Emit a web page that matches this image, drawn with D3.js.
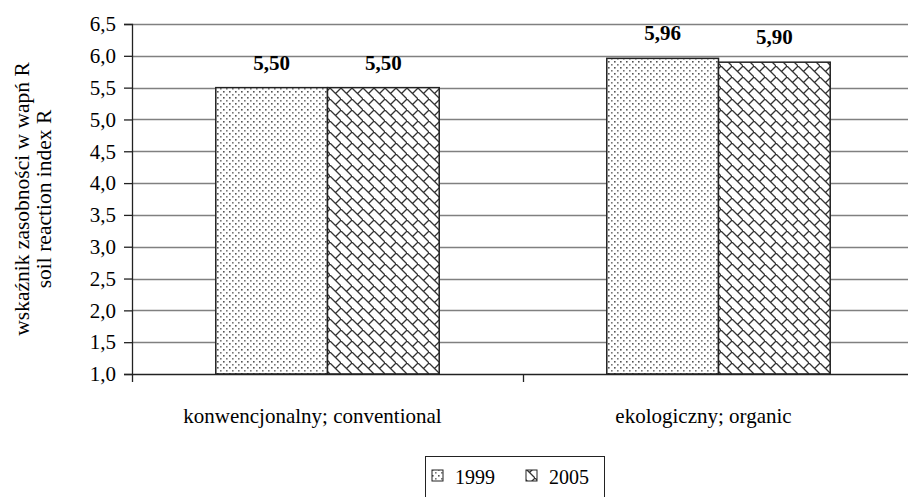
<!DOCTYPE html>
<html>
<head>
<meta charset="utf-8">
<script src="https://cdn.jsdelivr.net/npm/d3@7"></script>
<style>
  html, body { margin: 0; padding: 0; background: #fff; }
  svg { display: block; }
  text { font-family: "Liberation Serif", "Times New Roman", serif; fill: #000; }
</style>
</head>
<body>
<svg id="chart" width="908" height="497"></svg>
<script>
// Farming systems and survey years
const categories = ["konwencjonalny; conventional", "ekologiczny; organic"];
const years = ["1999", "2005"];
const values1999 = [5.50, 5.96];
const values2005 = [5.50, 5.90];
const yTicks = [1.0, 1.5, 2.0, 2.5, 3.0, 3.5, 4.0, 4.5, 5.0, 5.5, 6.0, 6.5];
const yTitle = ["wskaźnik zasobności w wapń R", "soil reaction index R"];

const series = [values1999, values2005];
const fmt = v => d3.format(".2f")(v).replace(".", ",");
const fmtTick = v => d3.format(".1f")(v).replace(".", ",");

const svg = d3.select("#chart");
const margin = { left: 132, right: -6, top: 24, bottom: 123 };
const W = 908, H = 497;
const x0 = margin.left, x1 = W - margin.right;
const yTop = margin.top, yBot = H - margin.bottom;

// Fill patterns: dotted for 1999, diagonal brick for 2005
const defs = svg.append("defs");
const dots = defs.append("pattern").attr("id", "pDots")
  .attr("patternUnits", "userSpaceOnUse").attr("width", 6).attr("height", 6);
dots.append("rect").attr("width", 6).attr("height", 6).attr("fill", "#fff");
dots.append("rect").attr("x", 1).attr("y", 1).attr("width", 1.6).attr("height", 1.6).attr("fill", "#555");
dots.append("rect").attr("x", 4).attr("y", 4).attr("width", 1.6).attr("height", 1.6).attr("fill", "#777");

const brick = defs.append("pattern").attr("id", "pBrick")
  .attr("patternUnits", "userSpaceOnUse").attr("width", 11).attr("height", 11);
brick.append("rect").attr("width", 11).attr("height", 11).attr("fill", "#fff");
brick.append("path")
  .attr("d", "M-1,-1 L12,12 M5.5,5.5 L11,0 M-1,12 L0,11 M10,1 L12,-1")
  .attr("stroke", "#333").attr("stroke-width", 1.3).attr("fill", "none");

const fills = ["url(#pDots)", "url(#pBrick)"];

const y = d3.scaleLinear().domain([1.0, 6.5]).range([yBot, yTop]);
const xBand = d3.scaleBand().domain(categories).range([x0, x1]).paddingInner(0).paddingOuter(0);
const xSub = d3.scaleBand().domain(years).range([0, xBand.bandwidth()]).paddingInner(0).paddingOuter(0.75);

// Horizontal gridlines
svg.append("g").selectAll("line").data(yTicks.slice(1)).join("line")
  .attr("x1", x0).attr("x2", x1 + 10)
  .attr("y1", d => Math.round(y(d)) + 0.5).attr("y2", d => Math.round(y(d)) + 0.5)
  .attr("stroke", "#808080").attr("stroke-width", 1.4);

// Bars
const groups = svg.append("g").selectAll("g").data(categories).join("g")
  .attr("transform", d => `translate(${xBand(d)},0)`);
groups.each(function (cat, ci) {
  const g = d3.select(this);
  years.forEach((yr, si) => {
    const v = series[si][ci];
    g.append("rect")
      .attr("x", xSub(yr)).attr("width", xSub.bandwidth())
      .attr("y", y(v)).attr("height", y(1.0) - y(v))
      .attr("fill", fills[si]).attr("stroke", "#222").attr("stroke-width", 1.5);
    g.append("text")
      .attr("x", xSub(yr) + xSub.bandwidth() / 2)
      .attr("y", y(v) - 18)
      .attr("text-anchor", "middle")
      .attr("font-weight", "bold").attr("font-size", 21)
      .text(fmt(v));
  });
});

// Y axis
const yAxis = d3.axisLeft(y).tickValues(yTicks).tickFormat(fmtTick).tickSize(8).tickPadding(8);
const yg = svg.append("g").attr("transform", `translate(${x0},0)`).call(yAxis);
yg.select(".domain").attr("stroke", "#222").attr("stroke-width", 1.3);
yg.selectAll(".tick line").attr("stroke", "#222").attr("stroke-width", 1.3);
yg.selectAll(".tick text").attr("font-size", 21).attr("font-family", "Liberation Serif").attr("fill", "#000");

// X axis with boundary ticks between categories
const xg = svg.append("g");
xg.append("line").attr("x1", x0).attr("x2", x1 + 10)
  .attr("y1", yBot + 0.5).attr("y2", yBot + 0.5).attr("stroke", "#222").attr("stroke-width", 1.3);
xg.selectAll("line.b").data(categories).join("line").attr("class", "b")
  .attr("x1", d => Math.round(xBand(d)) + 0.5).attr("x2", d => Math.round(xBand(d)) + 0.5)
  .attr("y1", yBot).attr("y2", yBot + 8).attr("stroke", "#222").attr("stroke-width", 1.3);
xg.selectAll("text").data(categories).join("text")
  .attr("x", d => xBand(d) + xBand.bandwidth() / 2 - 15)
  .attr("y", yBot + 49)
  .attr("text-anchor", "middle").attr("font-size", 21)
  .text(d => d);

// Y axis title (two lines, rotated)
const yt = svg.append("text").attr("transform", `translate(29,${(yTop + yBot) / 2}) rotate(-90)`)
  .attr("text-anchor", "middle").attr("font-size", 21.5);
yTitle.forEach((t, i) => yt.append("tspan").attr("x", 0).attr("dy", i === 0 ? 0 : 22).text(t));

// Legend
const lg = svg.append("g").attr("transform", "translate(425,456)");
lg.append("rect").attr("x", 0.5).attr("y", 0.5).attr("width", 179).attr("height", 60)
  .attr("fill", "#fff").attr("stroke", "#222").attr("stroke-width", 1);
const lx = [7, 101];
years.forEach((yr, i) => {
  lg.append("rect").attr("x", lx[i]).attr("y", 14).attr("width", 11).attr("height", 11)
    .attr("fill", fills[i]).attr("stroke", "#222").attr("stroke-width", 1);
  lg.append("text").attr("x", lx[i] + 23).attr("y", 28).attr("font-size", 20).text(yr);
});
</script>
</body>
</html>
